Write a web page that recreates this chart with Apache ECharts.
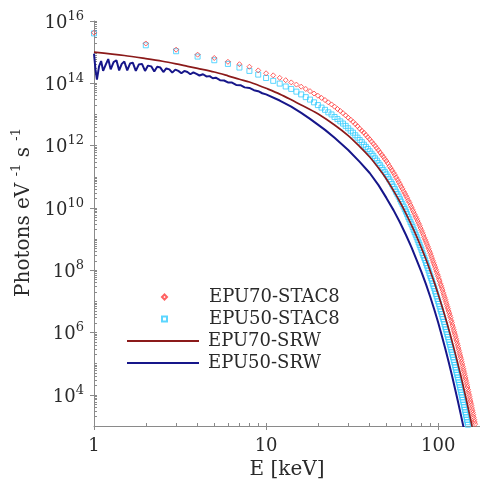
<!DOCTYPE html>
<html><head><meta charset="utf-8">
<script src="https://cdn.jsdelivr.net/npm/echarts@6/dist/echarts.min.js"></script>
<style>html,body{margin:0;padding:0;background:#fff}#c{width:480px;height:487px}</style>
</head><body><div id="c"></div>
<script>
// ---- data ----
const seriesNames = ['EPU70-STAC8', 'EPU50-STAC8', 'EPU70-SRW', 'EPU50-SRW'];

// STAC8 energies (keV), 1 keV steps
const stacE = [1,2,3,4,5,6,7,8,9,10,11,12,13,14,15,16,17,18,19,20,
  21,22,23,24,25,26,27,28,29,30,31,32,33,34,35,36,37,38,39,40,
  41,42,43,44,45,46,47,48,49,50,51,52,53,54,55,56,57,58,59,60,
  61,62,63,64,65,66,67,68,69,70,71,72,73,74,75,76,77,78,79,80,
  81,82,83,84,85,86,87,88,89,90,91,92,93,94,95,96,97,98,99,100,
  101,102,103,104,105,106,107,108,109,110,111,112,113,114,115,116,117,118,119,120,
  121,122,123,124,125,126,127,128,129,130,131,132,133,134,135,136,137,138,139,140,
  141,142,143,144,145,146,147,148,149,150,151,152,153,154,155,156,157,158,159,160,
  161,162,163,164,165,166,167,168];

const stac70 = [4.2e15,1.9e15,1.2e15,8.3e14,6.5e14,4.9e14,4.1e14,3.4e14,2.6e14,2.1e14,1.8e14,1.5e14,1.26e14,1.07e14,9.1e13,7.8e13,6.6e13,5.6e13,4.7e13,4.0e13,
  3.4e13,2.9e13,2.45e13,2.1e13,1.78e13,1.5e13,1.29e13,1.1e13,9.3e12,7.9e12,6.8e12,5.8e12,4.9e12,4.2e12,3.5e12,3.0e12,2.6e12,2.2e12,1.86e12,1.6e12,
  1.35e12,1.15e12,9.8e11,8.3e11,7.1e11,6.0e11,5.1e11,4.4e11,3.7e11,3.2e11,2.7e11,2.2e11,1.9e11,1.6e11,1.35e11,1.15e11,9.6e10,8.1e10,6.8e10,5.8e10,
  4.8e10,4.1e10,3.4e10,2.9e10,2.45e10,2.1e10,1.74e10,1.5e10,1.23e10,1.05e10,8.7e9,7.4e9,6.2e9,5.2e9,4.5e9,3.8e9,3.2e9,2.7e9,2.25e9,1.9e9,
  1.6e9,1.35e9,1.12e9,9.5e8,8.1e8,6.9e8,5.8e8,4.9e8,4.1e8,3.5e8,2.9e8,2.45e8,2.05e8,1.74e8,1.48e8,1.26e8,1.05e8,8.9e7,7.4e7,6.3e7,
  5.2e7,4.5e7,3.7e7,3.2e7,2.7e7,2.3e7,1.9e7,1.6e7,1.35e7,1.15e7,9.6e6,8.1e6,6.8e6,5.8e6,4.9e6,4.2e6,3.5e6,3.0e6,2.45e6,2.1e6,
  1.74e6,1.48e6,1.23e6,1.05e6,8.9e5,7.6e5,6.3e5,5.4e5,4.5e5,3.8e5,3.2e5,2.7e5,2.25e5,1.9e5,1.62e5,1.38e5,1.15e5,9.8e4,8.1e4,6.9e4,
  5.8e4,4.9e4,4.1e4,3.5e4,2.95e4,2.5e4,2.1e4,1.78e4,1.48e4,1.26e4,1.05e4,8.9e3,7.4e3,6.3e3,5.4e3,4.6e3,3.8e3,3.2e3,2.7e3,2.3e3,
  1.9e3,1.6e3,1.35e3,1.15e3,9.8e2,8.3e2,6.9e2,5.9e2];

const stac50 = [4.0e15,1.66e15,1.07e15,7.2e14,5.5e14,4.2e14,3.2e14,2.5e14,1.9e14,1.48e14,1.2e14,9.8e13,7.9e13,6.6e13,5.4e13,4.4e13,3.6e13,3.0e13,2.45e13,2.0e13,
  1.66e13,1.41e13,1.17e13,1.0e13,8.3e12,7.1e12,6.0e12,5.1e12,4.3e12,3.6e12,3.0e12,2.6e12,2.15e12,1.8e12,1.51e12,1.29e12,1.07e12,9.1e11,7.8e11,6.6e11,
  5.5e11,4.7e11,3.9e11,3.3e11,2.75e11,2.35e11,1.95e11,1.66e11,1.41e11,1.2e11,1.0e11,8.3e10,6.9e10,5.8e10,4.8e10,4.0e10,3.3e10,2.75e10,2.3e10,1.9e10,
  1.58e10,1.32e10,1.1e10,9.1e9,7.6e9,6.3e9,5.1e9,4.3e9,3.5e9,2.95e9,2.45e9,2.0e9,1.66e9,1.38e9,1.15e9,9.5e8,7.8e8,6.5e8,5.4e8,4.5e8,
  3.6e8,3.0e8,2.5e8,2.1e8,1.7e8,1.41e8,1.17e8,9.8e7,7.9e7,6.6e7,5.5e7,4.6e7,3.7e7,3.1e7,2.6e7,2.1e7,1.74e7,1.45e7,1.2e7,1.0e7,
  8.3e6,6.9e6,5.6e6,4.7e6,3.9e6,3.2e6,2.7e6,2.2e6,1.82e6,1.51e6,1.26e6,1.05e6,8.7e5,7.2e5,5.9e5,4.9e5,4.1e5,3.4e5,2.8e5,2.3e5,
  1.95e5,1.62e5,1.32e5,1.1e5,9.1e4,7.6e4,6.3e4,5.2e4,4.4e4,3.6e4,3.0e4,2.5e4,2.1e4,1.74e4,1.45e4,1.2e4,1.0e4,8.3e3,6.9e3,5.8e3,
  4.8e3,4.0e3,3.3e3,2.75e3,2.3e3,1.9e3,1.58e3,1.32e3,1.1e3,9.1e2,7.6e2,6.3e2,5.2e2,4.4e2,3.6e2,3.0e2,2.5e2,2.1e2,1.74e2,1.45e2,
  1.2e2,1.0e2,83,69,58,48,40,33];

const srw70E = [1,1.5,2,2.5,3,3.5,4,5,6,7,8,9,10,12,14,16,18,20,25,30,35,40,45,50,55,60,65,70,75,80,85,90,95,100,105,110,115,120,125,130,135,140,145,150,155,160];
const srw70 = [1.0e15,7.8e14,6.2e14,5.1e14,4.2e14,3.5e14,3.0e14,2.3e14,1.74e14,1.35e14,1.1e14,8.7e13,6.9e13,4.5e13,2.95e13,2.0e13,1.45e13,1.05e13,4.6e12,2.1e12,9.3e11,4.3e11,1.9e11,8.5e10,3.6e10,1.55e10,6.6e9,2.8e9,1.2e9,5.1e8,2.2e8,9.3e7,4.0e7,1.7e7,7.2e6,3.1e6,1.32e6,5.6e5,2.4e5,1.02e5,4.4e4,1.86e4,7.9e3,3.4e3,1.45e3,6.2e2];

const srw50E = [1.00,1.02,1.04,1.07,1.10,1.13,1.17,1.21,1.25,1.30,1.35,1.40,1.45,1.50,1.56,1.62,1.68,1.75,1.82,1.90,1.98,2.06,2.15,2.24,2.33,2.43,2.53,2.63,2.74,2.85,2.97,3.09,3.22,3.35,3.49,3.63,3.78,3.94,4.10,4.30,4.50,4.70,4.90,5.10,5.40,5.70,6.00,6.30,6.70,7.10,7.50,8.00,8.50,9.00,9.50,
  10,12,14,16,18,20,22,25,30,35,40,45,50,55,60,65,70,75,80,85,90,95,100,105,110,115,120,125,130,135,140,145];
const srw50 = [8.9e14,2.8e14,1.32e14,3.5e14,5.2e14,2.5e14,4.0e14,6.0e14,2.8e14,4.8e14,5.5e14,2.6e14,4.2e14,5.0e14,2.6e14,4.3e14,4.6e14,2.5e14,4.0e14,4.2e14,2.5e14,3.7e14,3.5e14,2.4e14,3.4e14,3.2e14,2.3e14,3.0e14,2.8e14,2.2e14,2.75e14,2.5e14,2.1e14,2.5e14,2.3e14,1.95e14,2.25e14,2.0e14,1.78e14,1.95e14,1.66e14,1.7e14,1.45e14,1.51e14,1.26e14,1.23e14,1.07e14,1.07e14,8.9e13,8.7e13,7.4e13,7.1e13,6.0e13,5.6e13,4.8e13,
  4.4e13,2.8e13,1.78e13,1.12e13,7.2e12,4.7e12,3.2e12,1.78e12,7.2e11,3.0e11,1.32e11,5.4e10,2.1e10,8.5e9,3.4e9,1.35e9,5.4e8,2.1e8,8.7e7,3.5e7,1.38e7,5.4e6,2.1e6,7.9e5,3.0e5,1.15e5,4.4e4,1.66e4,6.5e3,2.5e3,9.8e2,3.8e2];

const xLabelValues = [1, 10, 100];
const yLabelValues = [1e4, 1e6, 1e8, 1e10, 1e12, 1e14, 1e16];

// ---- styling ----
const FONT = 'DejaVu Serif';
const AXIS_COLOR = '#8a8a8a';
const TEXT_COLOR = '#2a2a2a';
const RED = '#ff3b3b', CYAN = '#33ccff', DARKRED = '#8b1a1a', NAVY = '#16168a';
const X_MIN = 1, X_MAX = 175, Y_MIN = 1e3, Y_MAX = 1e16;

// log-spaced minor tick positions (axis decoration)
const xMinor = [];
for (let d = 0; d <= 2; d++) for (let m = 1; m <= 9; m++) { const v = m * Math.pow(10, d); if (v <= X_MAX) xMinor.push(v); }
const yMinor = [];
for (let d = 3; d <= 16; d++) for (let m = 1; m <= 9; m++) { const v = m * Math.pow(10, d); if (v <= Y_MAX * 1.0001) yMinor.push(v); }

const chart = echarts.init(document.getElementById('c'), null, { renderer: 'canvas' });

const supRich = {
  b: { fontFamily: FONT, fontSize: 18, color: TEXT_COLOR, lineHeight: 22, verticalAlign: 'bottom' },
  s: { fontFamily: FONT, fontSize: 13, color: TEXT_COLOR, lineHeight: 12, verticalAlign: 'top' }
};

const hidden = { show: false };
function minorXAxis() {
  return { type: 'log', logBase: 10, min: X_MIN, max: X_MAX, position: 'bottom', gridIndex: 0,
    axisLine: hidden, splitLine: hidden, axisLabel: hidden,
    axisTick: { show: true, inside: true, length: 3, customValues: xMinor, lineStyle: { color: AXIS_COLOR } } };
}
function minorYAxis() {
  return { type: 'log', logBase: 10, min: Y_MIN, max: Y_MAX, position: 'left', gridIndex: 0,
    axisLine: hidden, splitLine: hidden, axisLabel: hidden,
    axisTick: { show: true, inside: true, length: 3, customValues: yMinor, lineStyle: { color: AXIS_COLOR } } };
}

chart.setOption({
  animation: false,
  backgroundColor: '#ffffff',
  grid: { left: 94, right: 0, top: 21, bottom: 61, containLabel: false },
  xAxis: [
    { type: 'log', logBase: 10, min: X_MIN, max: X_MAX, position: 'bottom',
      name: 'E [keV]', nameLocation: 'middle', nameGap: 34,
      nameTextStyle: { fontFamily: FONT, fontSize: 20, color: TEXT_COLOR },
      axisLine: { show: true, lineStyle: { color: AXIS_COLOR, width: 1 } },
      axisTick: { show: true, inside: false, length: 4, customValues: xLabelValues, lineStyle: { color: AXIS_COLOR } },
      axisLabel: { show: true, customValues: xLabelValues, formatter: v => String(Math.round(v)), fontFamily: FONT, fontSize: 18, color: TEXT_COLOR, margin: 11 },
      splitLine: hidden },
    minorXAxis()
  ],
  yAxis: [
    { type: 'log', logBase: 10, min: Y_MIN, max: Y_MAX, position: 'left',
      name: '{t|Photons eV }{u|-1}{t| s }{u|-1}', nameLocation: 'middle', nameGap: 58,
      nameTextStyle: { padding: [0, 0, 0, 22], rich: {
        t: { fontFamily: FONT, fontSize: 20, color: TEXT_COLOR, lineHeight: 24, verticalAlign: 'bottom' },
        u: { fontFamily: FONT, fontSize: 13, color: TEXT_COLOR, lineHeight: 12, verticalAlign: 'top' } } },
      axisLine: { show: true, lineStyle: { color: AXIS_COLOR, width: 1 } },
      axisTick: { show: true, inside: false, length: 4, customValues: yLabelValues, lineStyle: { color: AXIS_COLOR } },
      axisLabel: { show: true, customValues: yLabelValues, margin: 10,
        formatter: v => '{b|10}{s|' + Math.round(Math.log10(v)) + '}', rich: supRich },
      splitLine: hidden },
    minorYAxis()
  ],
  legend: [
    { data: [
        { name: seriesNames[0], icon: 'diamond' },
        { name: seriesNames[1], icon: 'rect' } ],
      orient: 'vertical', left: 161, top: 287, padding: 0,
      itemWidth: 5, itemHeight: 5, itemGap: 2, selectedMode: false,
      textStyle: { fontFamily: FONT, fontSize: 18, color: TEXT_COLOR, lineHeight: 20, padding: [0, 0, 0, 37] } },
    { data: [
        { name: seriesNames[2], icon: 'rect' },
        { name: seriesNames[3], icon: 'rect' } ],
      orient: 'vertical', left: 127, top: 331, padding: 0,
      itemWidth: 72, itemHeight: 2, itemGap: 2, selectedMode: false,
      textStyle: { fontFamily: FONT, fontSize: 18, color: TEXT_COLOR, lineHeight: 20, padding: [0, 0, 0, 4] } }
  ],
  series: [
    { name: seriesNames[1], type: 'scatter', xAxisIndex: 0, yAxisIndex: 0, symbol: 'rect', symbolSize: 5,
      itemStyle: { color: 'rgba(255,255,255,0)', borderColor: CYAN, borderWidth: 1 },
      data: stacE.map((e, i) => [e, stac50[i]]), z: 2 },
    { name: seriesNames[0], type: 'scatter', xAxisIndex: 0, yAxisIndex: 0, symbol: 'diamond', symbolSize: 5,
      itemStyle: { color: 'rgba(255,255,255,0)', borderColor: RED, borderWidth: 1 },
      data: stacE.map((e, i) => [e, stac70[i]]), z: 3 },
    { name: seriesNames[2], type: 'line', xAxisIndex: 0, yAxisIndex: 0, symbol: 'none', smooth: 0.3,
      lineStyle: { color: DARKRED, width: 1.7 }, itemStyle: { color: DARKRED },
      data: srw70E.map((e, i) => [e, srw70[i]]), z: 4 },
    { name: seriesNames[3], type: 'line', xAxisIndex: 0, yAxisIndex: 0, symbol: 'none',
      lineStyle: { color: NAVY, width: 2 }, itemStyle: { color: NAVY },
      data: srw50E.map((e, i) => [e, srw50[i]]), z: 5 }
  ]
});
</script>
</body></html>
